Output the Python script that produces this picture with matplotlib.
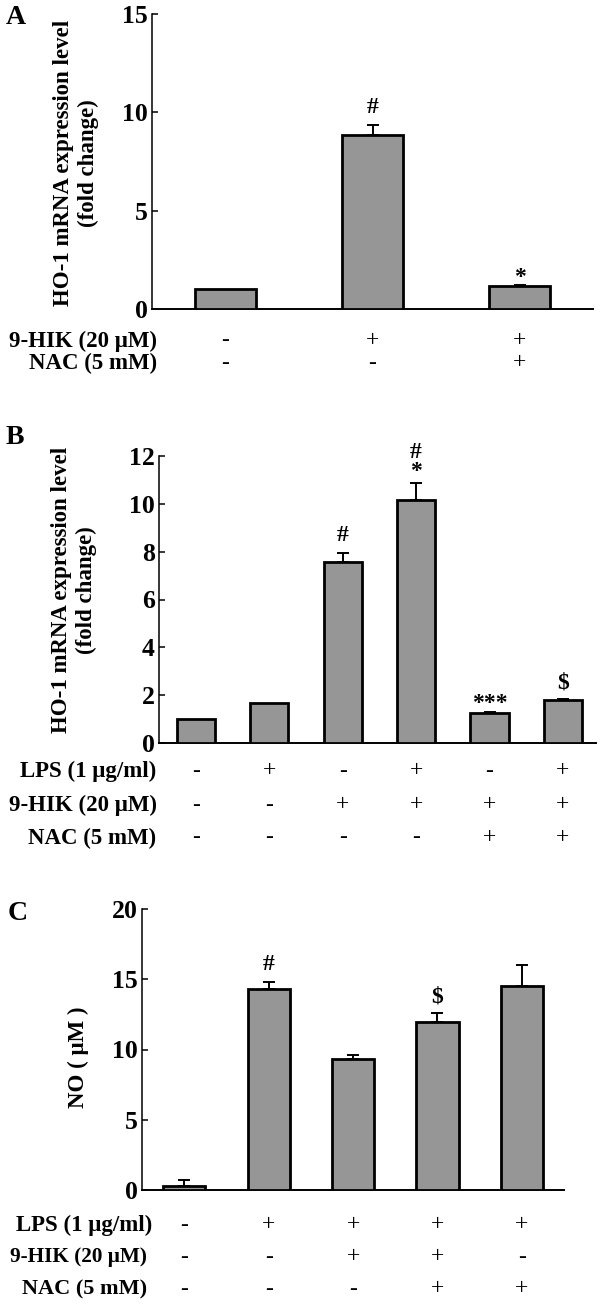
import matplotlib
matplotlib.use("Agg")
import matplotlib.pyplot as plt
import matplotlib.transforms as mtransforms

plt.rcParams['font.family'] = ['Liberation Serif', 'DejaVu Serif']
plt.rcParams['font.weight'] = 'bold'

W, H = 602, 1307

# panel A
a_values = [1.0, 8.86, 1.17]
a_errors = [0.0, 0.51, 0.05]
a_marks = ["", "#", "*"]
a_rows = ["9-HIK (20 μM)", "NAC (5 mM)"]
a_signs = [["-", "+", "+"],
           ["-", "-", "+"]]
a_yticks = [0, 5, 10, 15]

# panel B
b_values = [1.0, 1.69, 7.55, 10.14, 1.24, 1.80]
b_errors = [0.0, 0.0, 0.41, 0.73, 0.05, 0.05]
b_marks = ["", "", "#", "#\n*", "***", "$"]
b_rows = ["LPS (1 μg/ml)", "9-HIK (20 μM)", "NAC (5 mM)"]
b_signs = [["-", "+", "-", "+", "-", "+"],
           ["-", "-", "+", "+", "+", "+"],
           ["-", "-", "-", "-", "+", "+"]]
b_yticks = [0, 2, 4, 6, 8, 10, 12]

# panel C
c_values = [0.28, 14.28, 9.30, 11.98, 14.52]
c_errors = [0.43, 0.52, 0.31, 0.59, 1.49]
c_marks = ["", "#", "", "$", ""]
c_rows = ["LPS (1 μg/ml)", "9-HIK (20 μM)", "NAC (5 mM)"]
c_signs = [["-", "+", "+", "+", "+"],
           ["-", "-", "+", "+", "-"],
           ["-", "-", "-", "+", "+"]]
c_yticks = [0, 5, 10, 15, 20]

MARK_OFFSET = {"#": 5, "$": 4, "*": -2, "***": -1, "#\n*": 1}


def px_rect(left, top, right, bottom):
    return [left / W, 1 - bottom / H, (right - left) / W, (bottom - top) / H]


def draw_panel(fig, rect, values, errors, marks, yticks, xmax, width,
               letter, letter_xy, ylabel, ylabel_xy,
               rows, signs, row_ys, label_xs, label_sizes):
    ax = fig.add_axes(px_rect(*rect))
    xs = list(range(len(values)))
    ax.bar(xs, values, width=width, color="#969696", edgecolor="black",
           linewidth=2.0, zorder=3)
    for x, v, e in zip(xs, values, errors):
        if e > 0:
            ax.errorbar(x, v, yerr=[[0], [e]], fmt="none", ecolor="black",
                        elinewidth=1.4, capsize=4.5, capthick=1.4, zorder=2)
    for x, v, e, m in zip(xs, values, errors, marks):
        if m:
            ax.annotate(m, xy=(x, v + e), xytext=(0, MARK_OFFSET[m]),
                        textcoords="offset points", ha="center", va="bottom",
                        fontsize=17, linespacing=0.85, annotation_clip=False)

    ax.set_xlim(-0.5, xmax)
    ax.set_ylim(yticks[0], yticks[-1])
    ax.set_yticks(yticks)
    ax.set_xticks([])
    ax.spines["top"].set_visible(False)
    ax.spines["right"].set_visible(False)
    ax.spines["left"].set_linewidth(1.1)
    ax.spines["bottom"].set_linewidth(1.4)
    ax.tick_params(axis="y", direction="in", length=4, width=1.1,
                   labelsize=18.5, pad=3)
    for lab in ax.get_yticklabels():
        lab.set_fontweight("bold")

    fig.text(letter_xy[0] / W, 1 - letter_xy[1] / H, letter, fontsize=20,
             ha="left", va="center")
    fig.text(ylabel_xy[0] / W, 1 - ylabel_xy[1] / H, ylabel, rotation=90,
             ha="center", va="center", fontsize=16.5, multialignment="center",
             linespacing=1.25)

    trans = mtransforms.blended_transform_factory(ax.transData, fig.transFigure)
    for label, row, ry, lx, fs in zip(rows, signs, row_ys, label_xs,
                                      label_sizes):
        fig.text(lx / W, 1 - ry / H, label, ha="right", va="center",
                 fontsize=fs)
        for x, s in zip(xs, row):
            ax.text(x, 1 - ry / H, s, transform=trans, ha="center",
                    va="center", fontsize=17, fontweight="normal")
    return ax


def main():
    fig = plt.figure(figsize=(W / 100, H / 100), dpi=100)

    draw_panel(fig, (152, 14, 593, 309), a_values, a_errors, a_marks,
               a_yticks, 2.5, 0.41, "A", (6, 18),
               "HO-1 mRNA expression level\n(fold change)", (76, 163),
               a_rows, a_signs, [341, 363], [157, 157], [16.5, 16.5])

    draw_panel(fig, (159, 456, 596, 743), b_values, b_errors, b_marks,
               b_yticks, 5.45, 0.52, "B", (6, 437),
               "HO-1 mRNA expression level\n(fold change)", (74, 590),
               b_rows, b_signs, [771, 805, 838], [156, 157, 156],
               [16.5, 16.5, 16.5])

    draw_panel(fig, (142, 909, 564, 1190), c_values, c_errors, c_marks,
               c_yticks, 4.5, 0.5, "C", (8, 913),
               "NO ( μM )", (78, 1057),
               c_rows, c_signs, [1225, 1257, 1289], [152, 147, 147],
               [16.5, 15.3, 16])

    fig.savefig("out.png", dpi=100)
    plt.close(fig)


if __name__ == "__main__":
    main()
